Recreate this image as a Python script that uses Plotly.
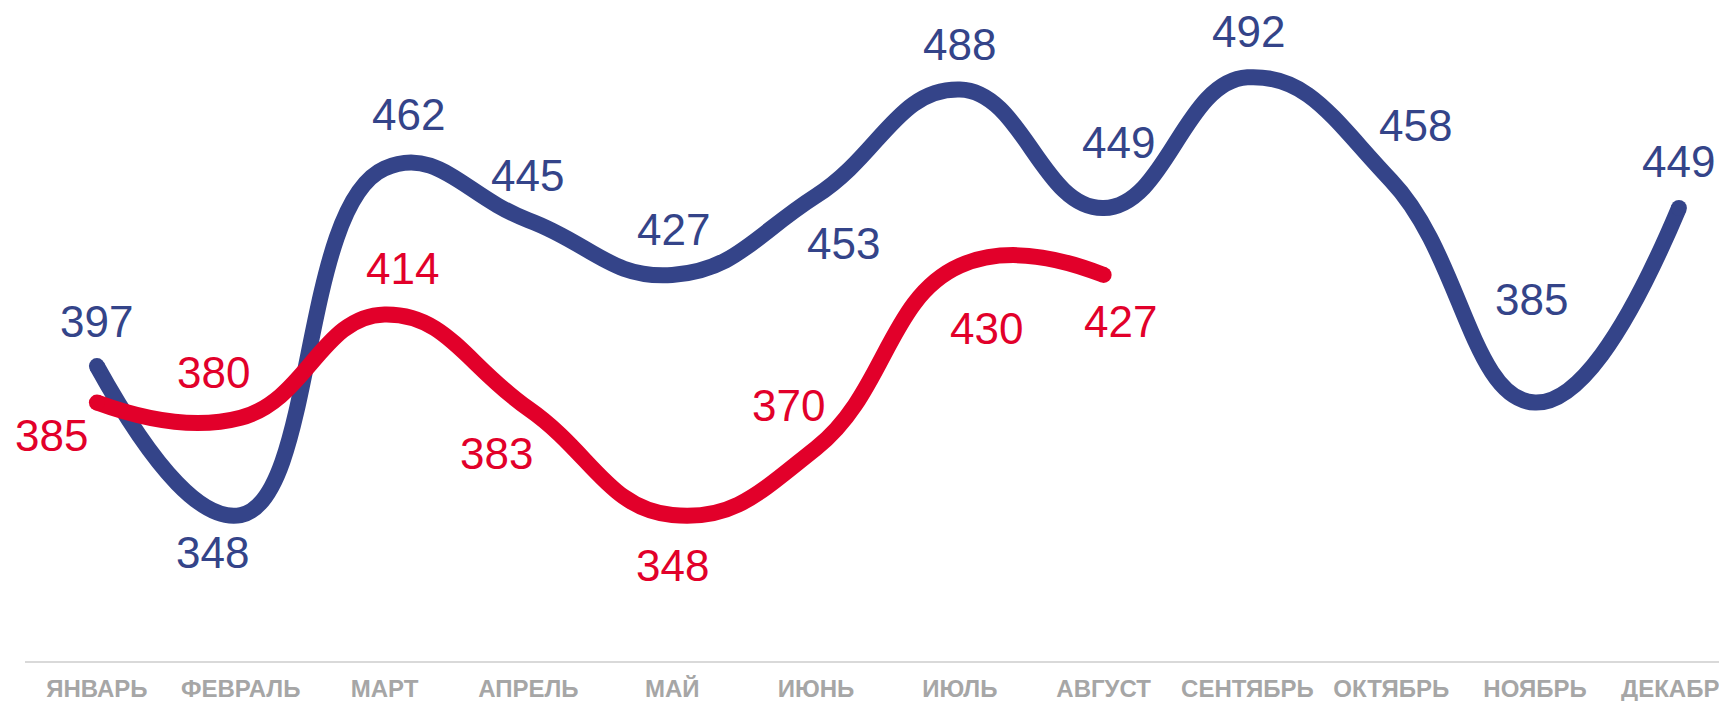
import plotly.graph_objects as go

months = ["ЯНВАРЬ", "ФЕВРАЛЬ", "МАРТ", "АПРЕЛЬ", "МАЙ", "ИЮНЬ",
          "ИЮЛЬ", "АВГУСТ", "СЕНТЯБРЬ", "ОКТЯБРЬ", "НОЯБРЬ", "ДЕКАБРЬ"]
series_blue = [397, 348, 462, 445, 427, 453, 488, 449, 492, 458, 385, 449]
series_red = [385, 380, 414, 383, 348, 370, 430, 427]

BLUE = "#344489"
RED = "#E2002A"

# label offsets (pixels) relative to each point: (dx, dy up)
blue_off = [(0, 45), (-28, -37), (24, 54), (-1, 45), (1, 45), (27, -48),
            (0, 45), (15, 66), (1, 46), (24, 55), (-4, 103), (0, 47)]
red_off = [(-45, -33), (-27, 45), (18, 46), (-32, -45), (0, -50), (-28, 43),
           (27, -63), (17, -47)]

xb = list(range(len(series_blue)))
xr = list(range(len(series_red)))

def cap_sizes(n):
    return [16] + [0] * (n - 2) + [16]

fig = go.Figure()
fig.add_trace(go.Scatter(
    x=xb, y=series_blue, mode="lines+markers",
    line=dict(color=BLUE, width=16, shape="spline", smoothing=1.3),
    marker=dict(color=BLUE, size=cap_sizes(len(xb)), line=dict(width=0), opacity=1),
    hoverinfo="skip", showlegend=False))
fig.add_trace(go.Scatter(
    x=xr, y=series_red, mode="lines+markers",
    line=dict(color=RED, width=16, shape="spline", smoothing=1.3),
    marker=dict(color=RED, size=cap_sizes(len(xr)), line=dict(width=0), opacity=1),
    hoverinfo="skip", showlegend=False))

for x, v, (dx, dy) in zip(xb, series_blue, blue_off):
    fig.add_annotation(x=x, y=v, text=str(v), showarrow=False,
                       xshift=dx, yshift=dy,
                       font=dict(family="Liberation Sans, Arial", size=44, color=BLUE))
for x, v, (dx, dy) in zip(xr, series_red, red_off):
    fig.add_annotation(x=x, y=v, text=str(v), showarrow=False,
                       xshift=dx, yshift=dy,
                       font=dict(family="Liberation Sans, Arial", size=44, color=RED))

fig.update_layout(
    width=1727, height=701,
    margin=dict(l=17, r=0, t=0, b=48, autoexpand=False),
    paper_bgcolor="white", plot_bgcolor="white",
    xaxis=dict(
        tickmode="array", tickvals=xb,
        ticktext=["<b>%s</b>" % m for m in months],
        range=[-0.5, 11.39],
        showgrid=False, zeroline=False, automargin=False,
        showline=True, linecolor="#D9D9D9", linewidth=2,
        ticks="", tickangle=0, ticklabelstandoff=5,
        ticklabeloverflow="allow",
        tickfont=dict(family="Liberation Sans, Arial", size=24, color="#A6A6A6"),
    ),
    yaxis=dict(range=[300, 514.8], visible=False, showgrid=False, zeroline=False,
               automargin=False),
)

fig.write_html("out.html")
